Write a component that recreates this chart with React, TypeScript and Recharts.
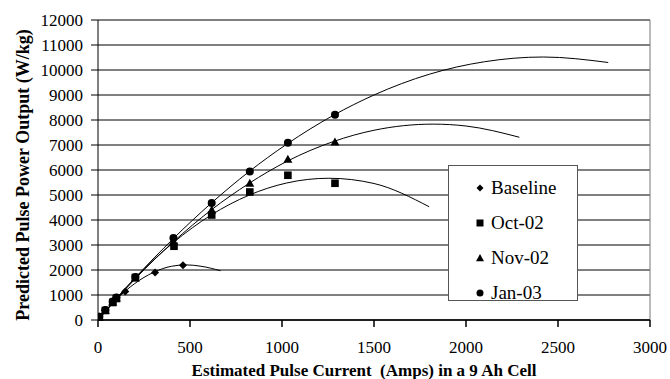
import {
  ComposedChart,
  Line,
  Scatter,
  XAxis,
  YAxis,
  CartesianGrid,
  ReferenceLine,
  Legend,
} from 'recharts'

// measured points (current in A, power in W/kg)
const baseline = [
  { x: 7, y: 130 },
  { x: 38, y: 390 },
  { x: 80, y: 720 },
  { x: 99, y: 880 },
  { x: 148, y: 1140 },
  { x: 310, y: 1900 },
  { x: 462, y: 2195 },
]
const oct02 = [
  { x: 7, y: 120 },
  { x: 40, y: 380 },
  { x: 80, y: 700 },
  { x: 100, y: 860 },
  { x: 203, y: 1700 },
  { x: 413, y: 2950 },
  { x: 618, y: 4200 },
  { x: 825, y: 5120 },
  { x: 1032, y: 5790 },
  { x: 1288, y: 5470 },
]
const nov02 = [
  { x: 7, y: 120 },
  { x: 40, y: 380 },
  { x: 80, y: 720 },
  { x: 100, y: 880 },
  { x: 203, y: 1680 },
  { x: 410, y: 3150 },
  { x: 618, y: 4400 },
  { x: 825, y: 5470 },
  { x: 1032, y: 6430 },
  { x: 1288, y: 7125 },
]
const jan03 = [
  { x: 7, y: 130 },
  { x: 40, y: 400 },
  { x: 80, y: 740 },
  { x: 100, y: 900 },
  { x: 203, y: 1720 },
  { x: 410, y: 3280 },
  { x: 618, y: 4685 },
  { x: 825, y: 5945 },
  { x: 1032, y: 7090 },
  { x: 1288, y: 8215 },
]

// polynomial trendlines
const baselineTrend = [
  { x: 0, y: 0 },
  { x: 100, y: 830 },
  { x: 200, y: 1460 },
  { x: 300, y: 1900 },
  { x: 400, y: 2150 },
  { x: 480, y: 2205 },
  { x: 560, y: 2150 },
  { x: 666, y: 1970 },
]
const oct02Trend = [
  { x: 0, y: 0 },
  { x: 200, y: 1670 },
  { x: 410, y: 3100 },
  { x: 615, y: 4200 },
  { x: 820, y: 4990 },
  { x: 1025, y: 5480 },
  { x: 1255, y: 5670 },
  { x: 1500, y: 5460 },
  { x: 1800, y: 4530 },
]
const nov02Trend = [
  { x: 0, y: 0 },
  { x: 200, y: 1630 },
  { x: 410, y: 3130 },
  { x: 615, y: 4400 },
  { x: 820, y: 5460 },
  { x: 1025, y: 6340 },
  { x: 1280, y: 7140 },
  { x: 1500, y: 7590 },
  { x: 1822, y: 7835 },
  { x: 2000, y: 7760 },
  { x: 2290, y: 7310 },
]
const jan03Trend = [
  { x: 0, y: 0 },
  { x: 200, y: 1670 },
  { x: 410, y: 3260 },
  { x: 615, y: 4670 },
  { x: 820, y: 5930 },
  { x: 1025, y: 7030 },
  { x: 1280, y: 8190 },
  { x: 1500, y: 9000 },
  { x: 1800, y: 9830 },
  { x: 2100, y: 10330 },
  { x: 2420, y: 10520 },
  { x: 2773, y: 10300 },
]

const xTicks = [0, 500, 1000, 1500, 2000, 2500, 3000]
const yTicks = [0, 1000, 2000, 3000, 4000, 5000, 6000, 7000, 8000, 9000, 10000, 11000, 12000]
const seriesNames = ['Baseline', 'Oct-02', 'Nov-02', 'Jan-03']

const serif = '"Liberation Serif", "Times New Roman", serif'
const serifStyle = { fontFamily: serif }

const Diamond = ({ cx, cy, s = 4 }: any) => (
  <path d={`M${cx},${cy - s} L${cx + s},${cy} L${cx},${cy + s} L${cx - s},${cy} Z`} fill="#000" />
)
const Square = ({ cx, cy, s = 4 }: any) => <rect x={cx - s} y={cy - s} width={s * 2} height={s * 2} fill="#000" />
const Triangle = ({ cx, cy, s = 4.5 }: any) => (
  <path d={`M${cx},${cy - s} L${cx + s},${cy + s * 0.8} L${cx - s},${cy + s * 0.8} Z`} fill="#000" />
)
const Circle = ({ cx, cy, s = 4 }: any) => <circle cx={cx} cy={cy} r={s} fill="#000" />

const markers = [Diamond, Square, Triangle, Circle]

const renderXTick = ({ x, y, payload }: any) => (
  <text key={`xt-${payload.value}`} x={x} y={y} dy="0.75em" textAnchor="middle" fontFamily={serif} style={serifStyle} fontSize={17} fill="#000">
    {payload.value}
  </text>
)
const renderYTick = ({ x, y, payload }: any) => (
  <text key={`yt-${payload.value}`} x={x} y={y} dy="0.35em" textAnchor="end" fontFamily={serif} style={serifStyle} fontSize={17} fill="#000">
    {payload.value}
  </text>
)

function LegendBox() {
  return (
    <div
      style={{
        width: 130,
        height: 136,
        border: '1px solid #555',
        background: '#fff',
        boxSizing: 'border-box',
        paddingTop: 4,
        fontFamily: serif,
        fontSize: 19,
        color: '#000',
      }}
    >
      {seriesNames.map((name, i) => {
        const M = markers[i]
        return (
          <div key={name} style={{ display: 'flex', alignItems: 'center', height: 35 }}>
            <svg width={42} height={14} style={{ flex: 'none' }}>
              <M cx={31} cy={7} s={i === 2 ? 4 : 3.5} />
            </svg>
            <span>{name}</span>
          </div>
        )
      })}
    </div>
  )
}

export default function App() {
  return (
    <div style={{ position: 'absolute', left: 0, top: 0, width: 670, height: 379, background: '#fff', fontFamily: serif }}>
      <ComposedChart width={670} height={379} margin={{ top: 20, right: 20, left: 0, bottom: 0 }} style={serifStyle}>
        <CartesianGrid vertical={false} horizontal stroke="#000" strokeWidth={1} />
        <ReferenceLine x={3000} stroke="#777" />
        <XAxis
          type="number"
          dataKey="x"
          domain={[0, 3000]}
          ticks={xTicks}
          interval={0}
          allowDataOverflow
          height={59}
          tickSize={7}
          tickMargin={13}
          stroke="#000"
          strokeWidth={1.5}
          tick={renderXTick}
          label={{
            content: () => (
              <text
                x={364}
                y={376}
                textAnchor="middle"
                fontFamily={serif}
                style={{ fontFamily: serif, whiteSpace: 'pre' }}
                fontWeight="bold"
                fontSize={17}
                fill="#000"
              >
                Estimated Pulse Current  (Amps) in a 9 Ah Cell
              </text>
            ),
          }}
        />
        <YAxis
          type="number"
          domain={[0, 12000]}
          ticks={yTicks}
          interval={0}
          width={98}
          tickSize={7}
          tickMargin={8}
          stroke="#000"
          strokeWidth={1}
          tick={renderYTick}
          label={{
            content: () => (
              <text
                x={29}
                y={175}
                transform="rotate(-90 29 175)"
                textAnchor="middle"
                fontFamily={serif}
                style={serifStyle}
                fontWeight="bold"
                fontSize={18}
                fill="#000"
              >
                Predicted Pulse Power Output (W/kg)
              </text>
            ),
          }}
        />
        <Legend
          layout="horizontal"
          verticalAlign="middle"
          align="center"
          wrapperStyle={{ left: 448, top: 165, width: 132, height: 138 }}
          content={() => <LegendBox />}
        />
        <Line data={baselineTrend} dataKey="y" type="monotone" stroke="#000" strokeWidth={1} dot={false} isAnimationActive={false} legendType="none" />
        <Line data={oct02Trend} dataKey="y" type="monotone" stroke="#000" strokeWidth={1} dot={false} isAnimationActive={false} legendType="none" />
        <Line data={nov02Trend} dataKey="y" type="monotone" stroke="#000" strokeWidth={1} dot={false} isAnimationActive={false} legendType="none" />
        <Line data={jan03Trend} dataKey="y" type="monotone" stroke="#000" strokeWidth={1} dot={false} isAnimationActive={false} legendType="none" />
        <Scatter name="Baseline" data={baseline} dataKey="y" shape={(p: any) => <Diamond cx={p.cx} cy={p.cy} s={4} />} isAnimationActive={false} />
        <Scatter name="Oct-02" data={oct02} dataKey="y" shape={(p: any) => <Square cx={p.cx} cy={p.cy} s={3.8} />} isAnimationActive={false} />
        <Scatter name="Nov-02" data={nov02} dataKey="y" shape={(p: any) => <Triangle cx={p.cx} cy={p.cy} s={4.5} />} isAnimationActive={false} />
        <Scatter name="Jan-03" data={jan03} dataKey="y" shape={(p: any) => <Circle cx={p.cx} cy={p.cy} s={4} />} isAnimationActive={false} />
      </ComposedChart>
    </div>
  )
}
